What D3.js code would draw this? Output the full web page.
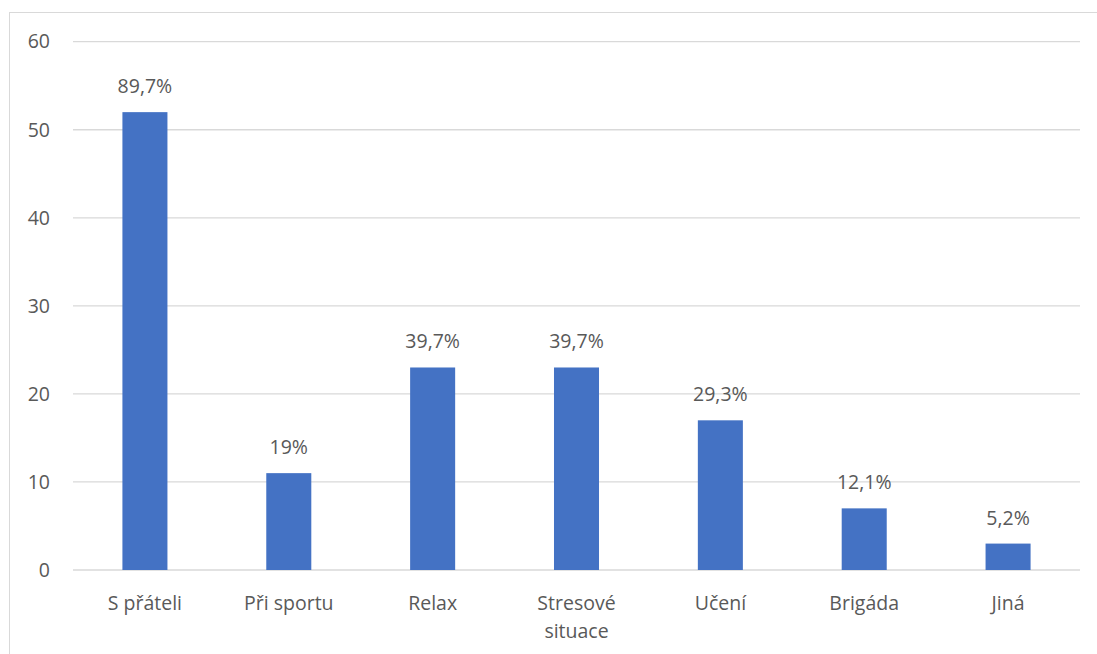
<!DOCTYPE html>
<html>
<head>
<meta charset="utf-8">
<script src="https://cdn.jsdelivr.net/npm/d3@7"></script>
<style>
  html, body { margin: 0; padding: 0; background: #fff; }
  svg { display: block; }
  text { font-family: "Open Sans", "Noto Sans", sans-serif; fill: #595959; }
</style>
</head>
<body>
<svg id="chart" width="1097" height="654"></svg>
<script>
// Situations and counts of respondents, with the share shown above each bar
const categories = ["S přáteli", "Při sportu", "Relax", "Stresové situace", "Učení", "Brigáda", "Jiná"];
const counts = [52, 11, 23, 23, 17, 7, 3];
const shareLabels = ["89,7%", "19%", "39,7%", "39,7%", "29,3%", "12,1%", "5,2%"];
const yTicks = [0, 10, 20, 30, 40, 50, 60];

const FONT = 19.5;
const svg = d3.select("#chart");
const margin = { left: 73, right: 1080, top: 41.7, bottom: 570 };

// Chart area frame
svg.append("rect")
  .attr("x", 9.5).attr("y", 12.5)
  .attr("width", 1200).attr("height", 700)
  .attr("fill", "none").attr("stroke", "#d9d9d9").attr("stroke-width", 1);

const x = d3.scaleBand()
  .domain(categories)
  .range([margin.left, margin.right])
  .paddingInner(0.687).paddingOuter(0.3435);

const y = d3.scaleLinear().domain([0, 60]).range([margin.bottom, margin.top]);

// Horizontal gridlines
svg.append("g")
  .selectAll("line")
  .data(yTicks)
  .join("line")
  .attr("x1", margin.left).attr("x2", margin.right)
  .attr("y1", d => y(d)).attr("y2", d => y(d))
  .attr("stroke", "#d9d9d9").attr("stroke-width", 1.3);

// Y axis labels
const yAxis = d3.axisLeft(y).tickValues(yTicks).tickSize(0).tickPadding(0);
svg.append("g")
  .attr("transform", "translate(50,0)")
  .call(yAxis)
  .call(g => g.select(".domain").remove())
  .call(g => g.selectAll("text")
    .attr("font-size", FONT).attr("fill", "#595959")
    .attr("font-family", "'Open Sans', sans-serif"));

// Bars
svg.append("g")
  .selectAll("rect")
  .data(counts)
  .join("rect")
  .attr("x", (d, i) => x(categories[i]))
  .attr("width", x.bandwidth())
  .attr("y", d => y(d))
  .attr("height", d => y(0) - y(d))
  .attr("fill", "#4472c4");

// Value labels
svg.append("g")
  .selectAll("text")
  .data(counts)
  .join("text")
  .attr("x", (d, i) => x(categories[i]) + x.bandwidth() / 2)
  .attr("y", d => y(d) - 19)
  .attr("text-anchor", "middle")
  .attr("font-size", FONT)
  .text((d, i) => shareLabels[i]);

// Category labels (wrapped where the label is two words and wide)
const xAxis = d3.axisBottom(x).tickSize(0).tickPadding(0);
const gx = svg.append("g")
  .attr("transform", `translate(0,${margin.bottom})`)
  .call(xAxis)
  .call(g => g.select(".domain").remove());
gx.selectAll("text").each(function(d) {
  const t = d3.select(this);
  t.text(null)
    .attr("y", 0).attr("dy", null)
    .attr("font-size", FONT).attr("fill", "#595959")
    .attr("font-family", "'Open Sans', sans-serif");
  const lines = d === "Stresové situace" ? ["Stresové", "situace"] : [d];
  lines.forEach((ln, k) => {
    t.append("tspan").attr("x", 0).attr("y", 40 + k * 28).text(ln);
  });
});
</script>
</body>
</html>
